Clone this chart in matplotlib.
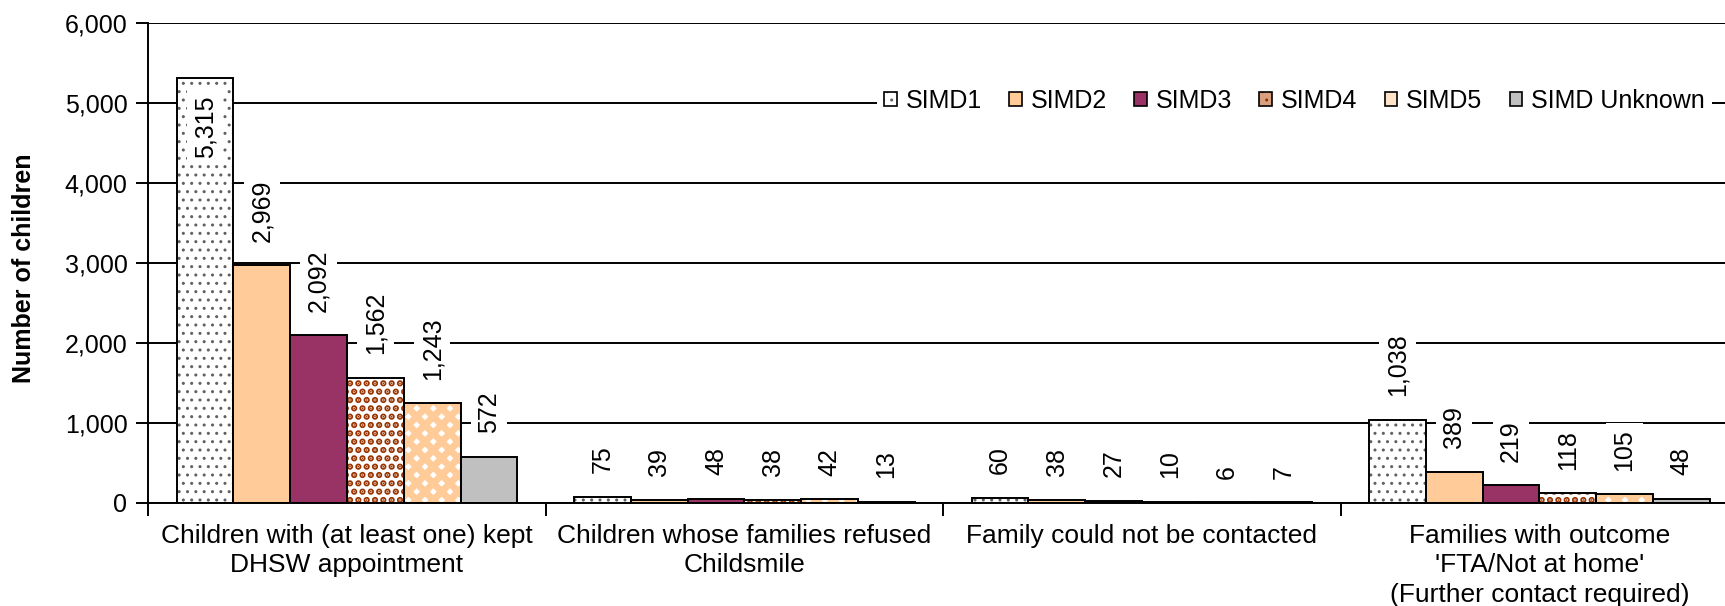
import matplotlib
matplotlib.use("Agg")
import matplotlib.pyplot as plt
from matplotlib.patches import Patch
import numpy as np

categories = ["Children with (at least one) kept\nDHSW appointment",
              "Children whose families refused\nChildsmile",
              "Family could not be contacted",
              "Families with outcome\n'FTA/Not at home'\n(Further contact required)"]
series_names = ["SIMD1", "SIMD2", "SIMD3", "SIMD4", "SIMD5", "SIMD Unknown"]
simd1 = [5315, 75, 60, 1038]
simd2 = [2969, 39, 38, 389]
simd3 = [2092, 48, 27, 219]
simd4 = [1562, 38, 10, 118]
simd5 = [1243, 42, 6, 105]
simd_unknown = [572, 13, 7, 48]
series_values = [simd1, simd2, simd3, simd4, simd5, simd_unknown]
yticks = [0, 1000, 2000, 3000, 4000, 5000, 6000]

# style: (facecolor, hatch colour, hatch, hatch linewidth)
styles = [("white", "#606060", "..", 1.0),
          ("#FFCC99", "#FFCC99", None, 1.0),
          ("#993366", "#993366", None, 1.0),
          ("white", "#993300", "..", 3.2),
          ("white", "#FFCC99", "xx", 5.0),
          ("#C0C0C0", "#C0C0C0", None, 1.0)]

plt.rcParams['font.family'] = ['Liberation Sans', 'DejaVu Sans']
plt.rcParams['hatch.linewidth'] = 1.0

fig = plt.figure(figsize=(17.25, 6.06), dpi=100)
left = 148.3 / 1725
bottom = (606 - 502.7) / 606
top = 1 - 22.7 / 606
width = (1738 - 148.3) / 1725
ax = fig.add_axes([left, bottom, width, top - bottom])

x = np.arange(len(categories))
n = len(series_names)
bw = 1.0 / (n + 1)
handles = []
for i, (name, vals) in enumerate(zip(series_names, series_values)):
    fc, hc, h, hlw = styles[i]
    pos = x - 0.5 + bw / 2 + bw * (i + 0.5)
    fill = ax.bar(pos, vals, bw, color=fc, edgecolor=hc, hatch=h, linewidth=0, zorder=2)
    for p in fill.patches:
        try:
            p.set_hatch_linewidth(hlw)
        except Exception:
            pass
    ax.bar(pos, vals, bw, fill=False, edgecolor="black", linewidth=1.4, zorder=3)
    if name == "SIMD5":
        hp = Patch(facecolor="#FFE3C7", edgecolor="#FFCC99", linewidth=0)
    elif name == "SIMD4":
        hp = Patch(facecolor="#D9A080", edgecolor="#993300", hatch="..", linewidth=0)
    else:
        hp = Patch(facecolor=fc, edgecolor=hc, hatch=h, linewidth=0)
    op = Patch(facecolor="none", edgecolor="black", linewidth=1.2)
    handles.append((hp, op))
    for xp, v in zip(pos, vals):
        lbl = f"{v:,}"
        if v > 5000:
            ax.annotate(lbl, (xp, v), xytext=(0, -13), textcoords="offset points",
                        rotation=90, ha="center", va="top", fontsize=18, zorder=5,
                        bbox=dict(boxstyle="square,pad=0.25", fc="white", ec="none"))
        else:
            ax.annotate(lbl, (xp, v), xytext=(0, 17), textcoords="offset points",
                        rotation=90, ha="center", va="bottom", fontsize=18, zorder=5,
                        bbox=dict(boxstyle="square,pad=0.25", fc="white", ec="none"))

ax.set_xlim(-0.5, len(categories) - 0.5)
ax.set_ylim(0, 6000)
ax.set_yticks(yticks)
ax.set_yticklabels([f"{t:,}" for t in yticks], fontsize=18)
ax.set_xticks(x)
ax.set_xticklabels(categories, fontsize=19, linespacing=1.3)
ax.set_xticks(np.arange(-0.5, len(categories), 1.0), minor=True)
ax.tick_params(axis="x", which="major", length=0, pad=15)
ax.tick_params(axis="x", which="minor", length=9, width=1.4, direction="out")
ax.tick_params(axis="y", length=9, width=1.4, direction="out", pad=6)
ax.yaxis.grid(True, color="black", linewidth=1.4, zorder=0)
ax.set_axisbelow(True)
for s in ["top", "right"]:
    ax.spines[s].set_visible(False)
for s in ["left", "bottom"]:
    ax.spines[s].set_linewidth(1.4)
    ax.spines[s].set_zorder(4)

fig.text(24 / 1725, 1 - 268 / 606, "Number of children", rotation=90,
         ha="center", va="center", fontsize=18, fontweight="bold")

leg = fig.legend(handles, series_names, loc="center right",
                 bbox_to_anchor=(1712 / 1725, 1 - 101 / 606), ncol=6,
                 fontsize=18, frameon=True, fancybox=False, framealpha=1,
                 edgecolor="none", facecolor="white", handlelength=0.5,
                 handleheight=0.5, handletextpad=0.35, columnspacing=1.1,
                 borderpad=0.3, borderaxespad=0)
leg.set_zorder(10)

fig.savefig("out.png", dpi=100)
